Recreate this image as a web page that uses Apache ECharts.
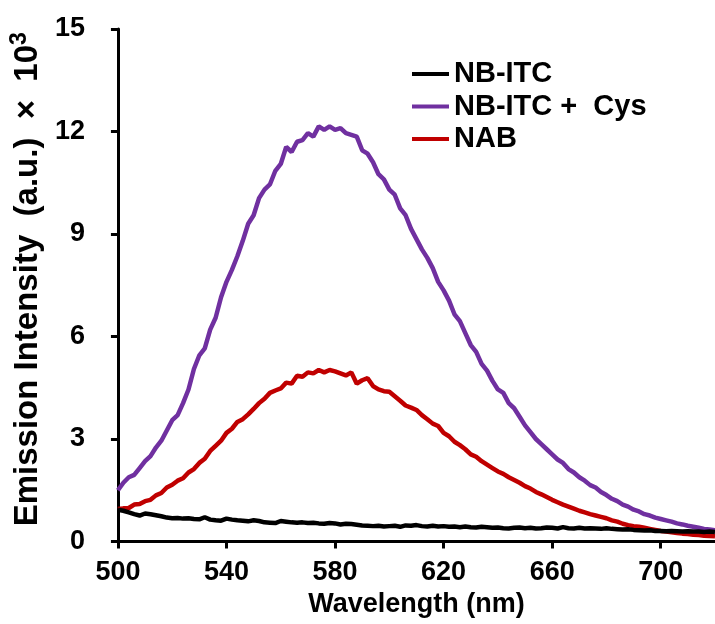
<!DOCTYPE html>
<html>
<head>
<meta charset="utf-8">
<script src="https://cdn.jsdelivr.net/npm/echarts@6/dist/echarts.min.js"></script>
<style>html,body{margin:0;padding:0;background:#fff}#c{width:715px;height:624px}</style>
</head>
<body>
<div id="c"></div>
<script>
const wavelengths = [
500,502,504,506,508,510,512,514,516,518,
520,522,524,526,528,530,532,534,536,538,
540,542,544,546,548,550,552,554,556,558,
560,562,564,566,568,570,572,574,576,578,
580,582,584,586,588,590,592,594,596,598,
600,602,604,606,608,610,612,614,616,618,
620,622,624,626,628,630,632,634,636,638,
640,642,644,646,648,650,652,654,656,658,
660,662,664,666,668,670,672,674,676,678,
680,682,684,686,688,690,692,694,696,698,
700,702,704,706,708,710,712,714,716,718,
720];
const nbItc = [
0.93,0.90,0.85,0.80,0.76,0.82,0.80,0.77,0.74,0.70,
0.68,0.69,0.67,0.68,0.66,0.65,0.71,0.64,0.62,0.61,
0.67,0.64,0.62,0.61,0.59,0.62,0.60,0.56,0.55,0.54,
0.60,0.58,0.56,0.55,0.56,0.54,0.55,0.53,0.52,0.54,
0.53,0.50,0.52,0.51,0.49,0.47,0.46,0.45,0.46,0.44,
0.45,0.46,0.43,0.47,0.46,0.48,0.45,0.44,0.46,0.44,
0.45,0.43,0.44,0.42,0.44,0.42,0.41,0.43,0.42,0.40,
0.41,0.39,0.38,0.40,0.41,0.39,0.40,0.38,0.39,0.41,
0.40,0.38,0.42,0.39,0.38,0.40,0.38,0.39,0.38,0.37,
0.39,0.37,0.36,0.35,0.36,0.34,0.33,0.32,0.33,0.31,
0.31,0.30,0.31,0.30,0.29,0.30,0.29,0.29,0.28,0.29,
0.28];
const nbItcCys = [
1.50,1.72,1.88,1.95,2.15,2.35,2.50,2.75,2.95,3.25,
3.55,3.70,4.05,4.45,5.05,5.45,5.65,6.20,6.55,7.15,
7.60,7.95,8.35,8.80,9.30,9.55,10.05,10.30,10.45,10.85,
11.05,11.55,11.40,11.70,11.75,11.95,11.85,12.15,12.05,12.15,
12.05,12.10,11.95,11.90,11.85,11.45,11.35,11.10,10.75,10.60,
10.30,10.15,9.75,9.55,9.15,8.85,8.55,8.30,8.00,7.60,
7.35,7.05,6.65,6.45,6.10,5.75,5.55,5.20,5.00,4.70,
4.45,4.35,4.05,3.90,3.65,3.40,3.20,3.00,2.85,2.70,
2.55,2.40,2.30,2.12,2.02,1.88,1.78,1.65,1.58,1.45,
1.36,1.25,1.18,1.08,1.02,0.93,0.88,0.80,0.76,0.70,
0.66,0.62,0.58,0.53,0.50,0.46,0.43,0.40,0.37,0.35,
0.33];
const nab = [
0.95,0.97,0.98,1.08,1.10,1.18,1.22,1.35,1.42,1.58,
1.66,1.78,1.85,2.02,2.12,2.30,2.42,2.65,2.80,2.95,
3.18,3.30,3.50,3.58,3.72,3.88,4.05,4.18,4.35,4.42,
4.48,4.65,4.62,4.85,4.82,4.95,4.92,5.02,4.95,5.02,
4.98,4.92,4.86,4.95,4.62,4.72,4.78,4.55,4.45,4.40,
4.38,4.25,4.12,3.98,3.92,3.85,3.70,3.58,3.45,3.38,
3.18,3.08,2.92,2.82,2.70,2.55,2.48,2.35,2.25,2.15,
2.05,1.98,1.88,1.80,1.72,1.62,1.55,1.45,1.38,1.30,
1.22,1.15,1.08,1.02,0.96,0.90,0.85,0.80,0.76,0.72,
0.68,0.62,0.58,0.52,0.48,0.45,0.43,0.40,0.37,0.34,
0.31,0.29,0.27,0.25,0.23,0.22,0.20,0.19,0.17,0.16,
0.15];
const seriesNames = ['NB-ITC','NB-ITC +  Cys','NAB'];
const seriesColors = ['#000000','#7030A0','#C00000'];
const xTitle = 'Wavelength (nm)';
const yTitleMain = 'Emission Intensity  (a.u.)  ×  10';
const yTitleSup = '3';

const font = 'Liberation Sans, Arial, sans-serif';
function pairs(ys){ return wavelengths.map((x,i)=>[x, ys[i]]); }
const chart = echarts.init(document.getElementById('c'), null, {renderer:'canvas'});
const datasets = [nbItc, nbItcCys, nab];
chart.setOption({
  animation: false,
  backgroundColor: '#fff',
  grid: {left:117, right:-7, top:29, bottom:82.5, containLabel:false},
  legend: {
    orient:'vertical', left:407, top:54.5, itemWidth:37, itemHeight:14, itemGap:3.5,
    data: seriesNames.map((n,i)=>({name:n, icon:'path://M0,0 L38,0 L38,4 L0,4 Z', itemStyle:{color:seriesColors[i]}})),
    textStyle:{fontFamily:font, fontWeight:'bold', fontSize:29, color:'#000', lineHeight:28}
  },
  xAxis: {
    type:'value', min:500, max:720, interval:40,
    name:xTitle, nameLocation:'middle', nameGap:50,
    nameTextStyle:{fontFamily:font, fontWeight:'bold', fontSize:27, color:'#000'},
    axisLine:{show:true, onZero:false, lineStyle:{color:'#000', width:3}},
    axisTick:{show:true, inside:false, length:7, lineStyle:{color:'#000', width:3}},
    axisLabel:{fontFamily:font, fontWeight:'bold', fontSize:27, color:'#000', margin:18, showMaxLabel:false},
    splitLine:{show:false}
  },
  yAxis: {
    type:'value', min:0, max:15, interval:3,
    name:'{m|' + yTitleMain + '}{s|' + yTitleSup + '}', nameLocation:'middle', nameGap:68,
    nameTextStyle:{padding:[0,0,0,12],
      rich:{
        m:{fontFamily:font, fontWeight:'bold', fontSize:33, color:'#000', lineHeight:36, verticalAlign:'bottom'},
        s:{fontFamily:font, fontWeight:'bold', fontSize:23, color:'#000', lineHeight:36, verticalAlign:'top', padding:[0,0,10,0]}
      }},
    axisLine:{show:true, onZero:false, lineStyle:{color:'#000', width:3}},
    axisTick:{show:true, inside:false, length:7, lineStyle:{color:'#000', width:3}},
    axisLabel:{fontFamily:font, fontWeight:'bold', fontSize:27, color:'#000', margin:33},
    splitLine:{show:false}
  },
  series: datasets.map((d,i)=>({
    name:seriesNames[i], type:'line', data:pairs(d), showSymbol:false, symbol:'none',
    smooth:false, lineStyle:{color:seriesColors[i], width:4.5}, itemStyle:{color:seriesColors[i]},
    z: i===0 ? 3 : 2
  }))
});
</script>
</body>
</html>
